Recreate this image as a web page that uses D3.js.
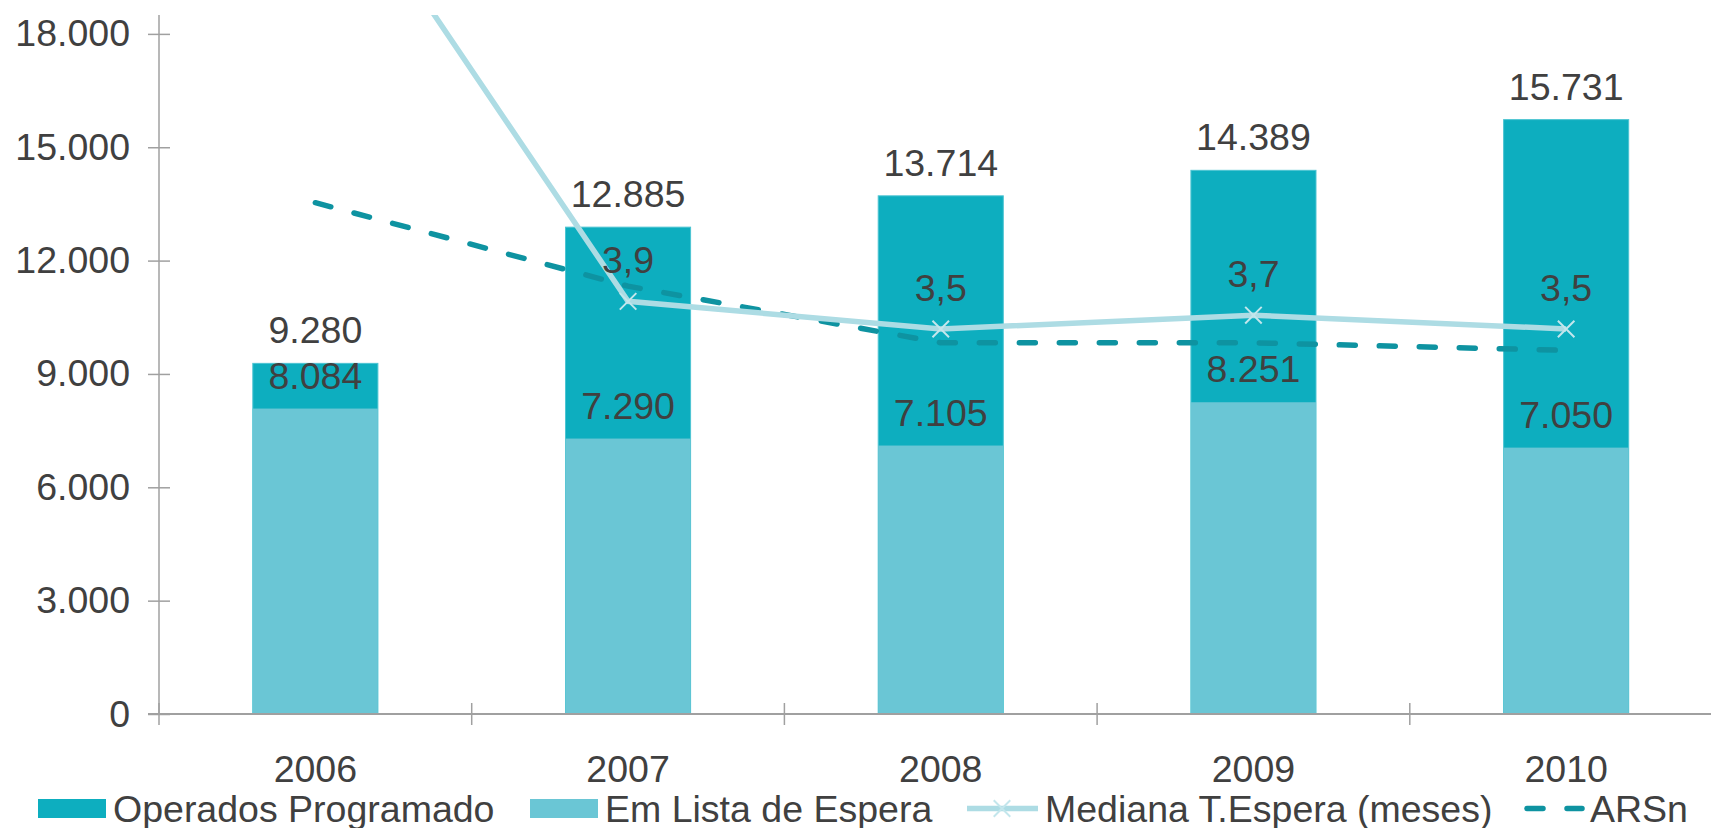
<!DOCTYPE html>
<html>
<head>
<meta charset="utf-8">
<script src="https://cdn.jsdelivr.net/npm/d3@7"></script>
<style>
  body { margin: 0; background: #fff; overflow: hidden; }
  text { font-family: "Liberation Sans", Arial, sans-serif; fill: #404040; }
</style>
</head>
<body>
<div id="chart"></div>
<script>
// data
const years = ["2006", "2007", "2008", "2009", "2010"];
const operados = [9280, 12885, 13714, 14389, 15731];
const emLista = [8084, 7290, 7105, 8251, 7050];
const mediana = [10.6, 3.9, 3.5, 3.7, 3.5];
const arsn = [5.33, 4.12, 3.3, 3.3, 3.19];
const yTicks = [0, 3000, 6000, 9000, 12000, 15000, 18000];

const width = 1711, height = 828;
const plotTop = 15, plotBottom = 714, plotLeft = 159;
const fs = "37.5px";

const pt = d3.formatLocale({ decimal: ",", thousands: ".", grouping: [3], currency: ["", "€"] });
const fmtInt = pt.format(",d");
const fmtDec = pt.format(".1f");

const svg = d3.select("#chart")
    .append("svg")
    .attr("width", width)
    .attr("height", height);

svg.append("defs").append("clipPath")
    .attr("id", "plot")
    .append("rect")
    .attr("x", 0).attr("y", plotTop)
    .attr("width", width).attr("height", height - plotTop);

// Scales
const xScale = d3.scaleBand()
    .domain(years)
    .range([plotLeft, plotLeft + 5 * 312.7])
    .padding(0);

const yScale = d3.scaleLinear()
    .domain([0, 18500])
    .range([plotBottom, plotTop]);

// secondary axis (hidden) for months
const y2Scale = d3.scaleLinear()
    .domain([-2.08, 8.05])
    .range([plotBottom, plotTop]);

const barW = xScale.bandwidth() * 0.4;
const cx = d => xScale(d) + xScale.bandwidth() / 2;

// Bars: Operados behind, Em Lista in front
svg.append("g").selectAll("rect")
    .data(years)
    .enter()
    .append("rect")
    .attr("x", d => cx(d) - barW / 2)
    .attr("y", (d, i) => yScale(operados[i]))
    .attr("width", barW)
    .attr("height", (d, i) => plotBottom - yScale(operados[i]))
    .attr("fill", "#0daebf")
    .attr("stroke", "#4cc4d2")
    .attr("stroke-width", 1);

svg.append("g").selectAll("rect")
    .data(years)
    .enter()
    .append("rect")
    .attr("x", d => cx(d) - barW / 2)
    .attr("y", (d, i) => yScale(emLista[i]))
    .attr("width", barW)
    .attr("height", (d, i) => plotBottom - yScale(emLista[i]))
    .attr("fill", "#6ac6d5");

// Axes
const yAxis = svg.append("g")
    .attr("transform", `translate(${plotLeft},0)`)
    .call(d3.axisLeft(yScale).tickValues(yTicks).tickSize(11).tickPadding(18).tickFormat(fmtInt));
yAxis.select(".domain").attr("stroke", "#a0a0a0").attr("stroke-width", 1.5)
    .attr("d", `M0,${plotTop}V${plotBottom}`);
yAxis.selectAll(".tick line").attr("stroke", "#a0a0a0").attr("stroke-width", 1.5).attr("x2", 11).attr("x1", -11);
yAxis.selectAll(".tick text")
    .style("font-size", fs)
    .style("fill", "#404040")
    .style("font-family", "Liberation Sans, Arial, sans-serif");

const xAxis = svg.append("g")
    .attr("transform", `translate(0,${plotBottom})`);
xAxis.append("line")
    .attr("x1", plotLeft - 11).attr("x2", width)
    .attr("stroke", "#a0a0a0").attr("stroke-width", 2);
xAxis.selectAll(".cat-tick")
    .data(years)
    .enter()
    .append("line")
    .attr("x1", d => xScale(d)).attr("x2", d => xScale(d))
    .attr("y1", -11).attr("y2", 11)
    .attr("stroke", "#a0a0a0").attr("stroke-width", 1.5);
xAxis.selectAll(".cat-label")
    .data(years)
    .enter()
    .append("text")
    .attr("x", cx)
    .attr("y", 68)
    .attr("text-anchor", "middle")
    .style("font-size", fs)
    .text(d => d);

// Bar labels
svg.append("g").selectAll("text")
    .data(years)
    .enter()
    .append("text")
    .attr("x", cx)
    .attr("y", (d, i) => yScale(operados[i]) - 20)
    .attr("text-anchor", "middle")
    .style("font-size", fs)
    .text((d, i) => fmtInt(operados[i]));

svg.append("g").selectAll("text")
    .data(years)
    .enter()
    .append("text")
    .attr("x", cx)
    .attr("y", (d, i) => yScale(emLista[i]) - 20)
    .attr("text-anchor", "middle")
    .style("font-size", fs)
    .text((d, i) => fmtInt(emLista[i]));

// Lines
const lines = svg.append("g").attr("clip-path", "url(#plot)");

const monthLine = d3.line()
    .x((d, i) => cx(years[i]))
    .y(d => y2Scale(d));

lines.append("path")
    .datum(arsn)
    .attr("d", monthLine)
    .attr("fill", "none")
    .attr("stroke", "#0e93a1")
    .attr("stroke-width", 5.5)
    .attr("stroke-linecap", "round")
    .attr("stroke-dasharray", "16,24");

lines.append("path")
    .datum(mediana)
    .attr("d", monthLine)
    .attr("fill", "none")
    .attr("stroke", "#addce4")
    .attr("stroke-width", 5.5);

const marker = d3.symbol().type(d3.symbolX).size(180);
lines.selectAll(".mk")
    .data(mediana)
    .enter()
    .append("path")
    .attr("d", marker)
    .attr("transform", (d, i) => `translate(${cx(years[i])},${y2Scale(d)})`)
    .attr("fill", "none")
    .attr("stroke", "#c3e6ec")
    .attr("stroke-width", 2);

lines.selectAll(".ml")
    .data(mediana)
    .enter()
    .append("text")
    .attr("x", (d, i) => cx(years[i]))
    .attr("y", d => y2Scale(d) - 28)
    .attr("text-anchor", "middle")
    .style("font-size", fs)
    .text(d => fmtDec(d));

// Legend
const legend = svg.append("g");
const ly = 808.5, lbase = 822;

legend.append("rect").attr("x", 38).attr("y", 799).attr("width", 68).attr("height", 19).attr("fill", "#0daebf");
legend.append("text").attr("x", 113).attr("y", lbase).style("font-size", fs).text("Operados Programado");

legend.append("rect").attr("x", 530).attr("y", 799).attr("width", 68).attr("height", 19).attr("fill", "#6ac6d5");
legend.append("text").attr("x", 605).attr("y", lbase).style("font-size", fs).text("Em Lista de Espera");

legend.append("line").attr("x1", 967).attr("x2", 1038).attr("y1", ly).attr("y2", ly)
    .attr("stroke", "#addce4").attr("stroke-width", 5.5);
legend.append("path").attr("d", marker).attr("transform", `translate(1002,${ly})`)
    .attr("fill", "none").attr("stroke", "#c3e6ec").attr("stroke-width", 2);
legend.append("text").attr("x", 1045).attr("y", lbase).style("font-size", fs).text("Mediana T.Espera (meses)");

legend.append("line").attr("x1", 1527).attr("x2", 1582).attr("y1", ly).attr("y2", ly)
    .attr("stroke", "#0e93a1").attr("stroke-width", 5.5)
    .attr("stroke-linecap", "round").attr("stroke-dasharray", "16,24");
legend.append("text").attr("x", 1590).attr("y", lbase).style("font-size", fs).text("ARSn");
</script>
</body>
</html>
